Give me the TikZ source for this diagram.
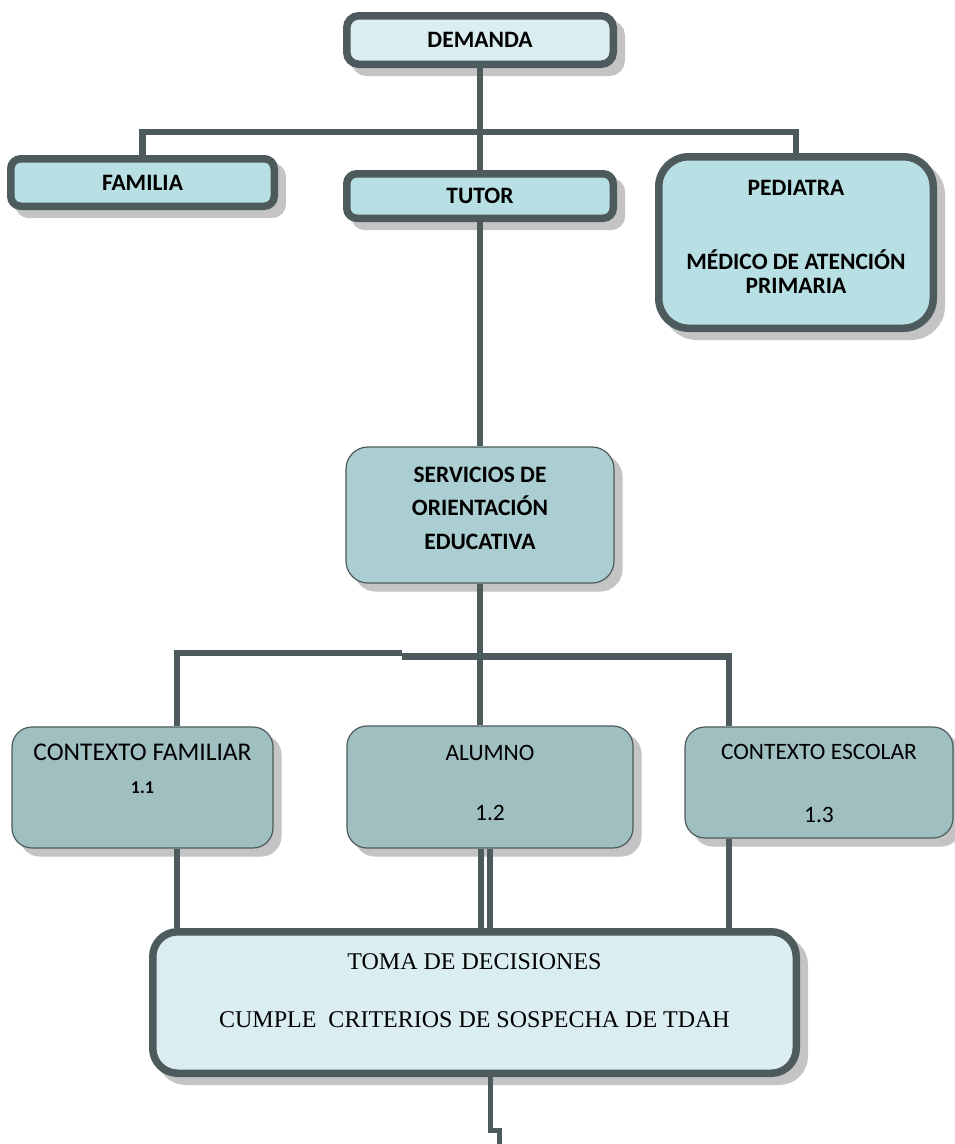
\documentclass[tikz,border=0pt]{standalone}
\usepackage{fontspec}
\setmainfont{Carlito}
\newfontfamily\serifface{Liberation Serif}
\usetikzlibrary{positioning,shadows}
\definecolor{edgegray}{RGB}{77,91,92}
\definecolor{paleblue}{RGB}{218,237,241}
\definecolor{midblue}{RGB}{184,223,227}
\definecolor{greyblue}{RGB}{170,206,210}
\definecolor{dullblue}{RGB}{160,191,193}
\definecolor{shade}{RGB}{196,196,196}

\begin{document}
\begin{tikzpicture}[x=1pt,y=-1pt,on grid,
  heavy/.style={rectangle, inner sep=0pt, align=center, draw=edgegray, line width=7.5pt,
    font=\fontsize{23.5}{24}\selectfont\bfseries,
    drop shadow={shadow xshift=8pt,shadow yshift=-8pt,fill=shade,draw=shade,opacity=1}},
  soft/.style={rectangle, inner sep=0pt, align=center, draw=edgegray, line width=1.2pt,
    font=\fontsize{23.5}{34}\selectfont,
    drop shadow={shadow xshift=8pt,shadow yshift=-8pt,fill=shade,draw=shade,opacity=1}},
  link/.style={draw=edgegray, line width=6.5pt}]
\useasboundingbox (0,0) rectangle (955,1144);
\node[heavy, fill=paleblue, rounded corners=12pt, minimum width=266.5pt, minimum height=48.5pt](0) at (480,40) {DEMANDA};
\node[heavy, fill=midblue, rounded corners=10pt, minimum width=266.5pt, minimum height=44.5pt, node distance=156pt](1) [below of=0] {TUTOR};
\node[heavy, fill=midblue, rounded corners=10pt, minimum width=263.5pt, minimum height=47.5pt](2) at (142.5,182.5) {FAMILIA};
\node[heavy, fill=midblue, rounded corners=30pt, minimum width=274.5pt, minimum height=171.5pt, text height=101pt, text depth=0pt](3) at (796,242.5) {PEDIATRA\\[50pt]MÉDICO DE ATENCIÓN\\PRIMARIA};
\node[soft, fill=greyblue, rounded corners=22pt, minimum width=268pt, minimum height=136pt, font=\fontsize{23.5}{33.5}\selectfont\bfseries, text height=68pt, text depth=0pt, node distance=319pt](4) [below of=1] {SERVICIOS DE\\ORIENTACIÓN\\EDUCATIVA};
\node[soft, fill=dullblue, rounded corners=20pt, minimum width=261pt, minimum height=121pt, font=\fontsize{25.5}{34}\selectfont, text height=20pt, text depth=8.4pt](5) at (142.5,787.5) {CONTEXTO FAMILIAR\\[-1pt]{\fontsize{18}{20}\selectfont\bfseries 1.1}};
\node[soft, fill=dullblue, rounded corners=20pt, minimum width=286pt, minimum height=122pt, text height=66pt, text depth=0pt](6) at (490,787) {ALUMNO\\[26pt]1.2};
\node[soft, fill=dullblue, rounded corners=20pt, minimum width=268pt, minimum height=111pt, text height=79pt, text depth=0pt](7) at (819,782.5) {CONTEXTO ESCOLAR\\[29pt]1.3};
\node[heavy, fill=paleblue, rounded corners=25pt, minimum width=643.5pt, minimum height=141.5pt, font=\fontsize{24}{29}\selectfont\serifface, text height=49pt, text depth=0pt](8) at (474.5,1002.5) {TOMA DE DECISIONES\\[29pt]CUMPLE~~CRITERIOS DE SOSPECHA DE TDAH};
\coordinate (b1) at (480,132);
\coordinate (b2) at (402,653);
\coordinate (b3) at (402,656.5);
\coordinate (j1) at (499,1130.5);
\coordinate (e1) at (499,1150);
\draw[link] (0) -- (1);
\draw[link] (2.north) |- (b1) -| (3.north);
\draw[link] (1) -- (4);
\draw[link] (4.south) -- (4.south |- 6.north);
\draw[link] ([xshift=34.5pt]5.north) |- (b2);
\draw[link] (b3) -| ([xshift=-90pt]7.north);
\draw[link] ([xshift=34.5pt]5.south) -- ([xshift=34.5pt]5.south |- 8.north);
\draw[link, line width=6pt] ([xshift=-9pt]6.south) -- ([xshift=-9pt]6.south |- 8.north);
\draw[link, line width=6pt] (6.south) -- (6.south |- 8.north);
\draw[link] ([xshift=-90pt]7.south) -- ([xshift=-90pt]7.south |- 8.north);
\draw[link, line width=5pt] ([xshift=15.5pt]8.south) |- (j1) -- (e1);
\end{tikzpicture}
\end{document}
